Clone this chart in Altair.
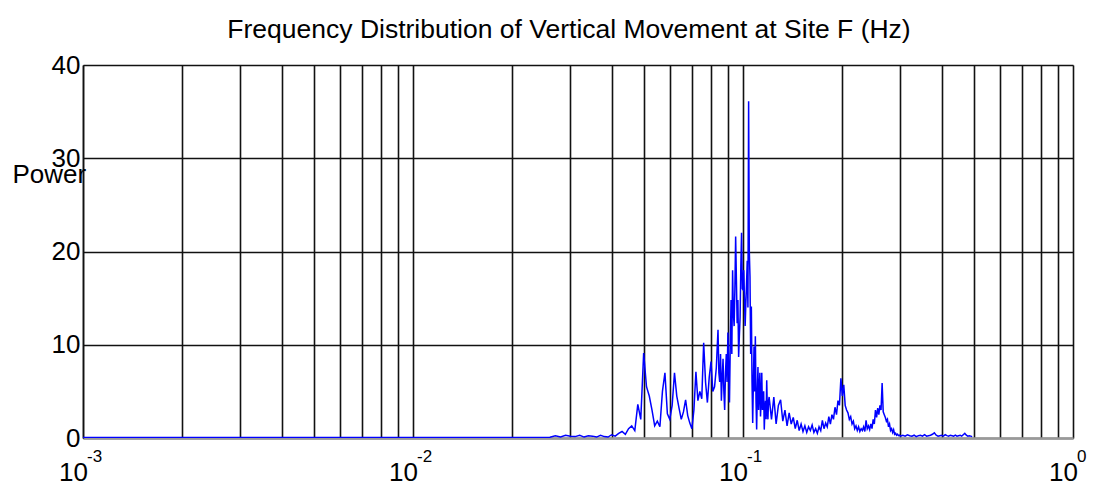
import altair as alt
import pandas as pd

# ---- data (frequency in mHz, power) ----
freq_a = [1, 2, 4, 6, 8, 10, 13, 16, 20, 23, 26]
pow_a = [0.05, 0.05, 0.05, 0.05, 0.05, 0.05, 0.05, 0.05, 0.05, 0.06, 0.08]

freq_b = [27, 28, 29, 30, 31, 32, 33, 34, 35, 36, 37, 38, 39, 40, 41, 42]
pow_b = [0.25, 0.1, 0.3, 0.2, 0.15, 0.3, 0.1, 0.25, 0.2, 0.1, 0.3, 0.15, 0.1, 0.35, 0.2, 0.5]

freq_c = [43, 44, 45, 46, 47, 48, 49, 50, 51, 52, 53, 54, 55, 56, 57, 58, 59, 60,
          61, 62, 63, 64, 65, 66, 67, 68, 69, 70, 71, 72, 73, 74, 75, 76, 77, 78,
          79, 80, 81, 82, 83]
pow_c = [0.7, 0.4, 1.0, 1.3, 0.8, 3.6, 2.0, 9.1, 5.5, 4.5, 3.0, 1.3, 1.8, 1.2, 5.0, 7.0, 2.6, 2.0,
         3.5, 7.0, 4.5, 3.2, 2.0, 2.8, 4.1, 2.4, 1.6, 1.0, 3.0, 7.1, 4.0, 5.0, 4.2, 10.2, 6.0, 3.8,
         6.5, 8.2, 5.0, 5.5, 7.5]

freq_p = [84, 84.5, 85, 85.5, 86, 86.5, 87, 87.5, 88, 88.5, 89, 89.5, 90, 90.5, 91, 91.5,
          92, 92.5, 93, 93.5, 94, 94.5, 95, 95.5, 96, 96.5, 97, 97.5, 98, 98.5, 99, 99.5,
          100, 100.5, 101, 101.5, 102, 102.5, 103, 103.5, 104, 104.5, 105, 105.5, 106, 106.5,
          107, 107.5, 108, 108.5, 109, 109.5, 110, 110.5, 111, 111.5, 112, 112.5, 113, 113.5,
          114, 114.5, 115, 115.5, 116, 116.5, 117, 117.5, 118, 118.5, 119, 119.5, 120]
pow_p = [11.6, 7.0, 6.0, 9.0, 4.0, 6.5, 8.5, 5.0, 3.0, 7.0, 9.0, 6.0, 11.3, 7.5, 3.8, 10.0,
         14.8, 9.0, 18.0, 13.5, 12.0, 16.0, 21.6, 17.0, 12.3, 14.8, 8.7, 11.0, 13.0, 18.4, 22.0, 16.0,
         15.9, 18.0, 15.1, 12.0, 14.4, 16.5, 19.0, 14.0, 36.1, 20.0, 17.3, 9.0, 14.1, 6.0,
         1.6, 6.0, 9.8, 5.0, 10.9, 4.0, 0.9, 5.0, 7.6, 3.0, 5.0, 7.0, 2.3, 4.0,
         7.0, 3.0, 3.5, 5.0, 0.9, 3.0, 4.0, 2.0, 6.2, 3.0, 2.0, 4.0, 4.4]

freq_d = [122, 124, 126, 128, 130, 132, 134, 136, 138, 140, 142, 144, 146, 148, 150,
          152, 154, 156, 158, 160, 162, 164, 166, 168, 170, 172, 174, 176, 178, 180,
          182, 184, 186, 188, 190, 192, 194, 196, 198, 200, 202, 204, 206, 208, 210,
          212, 214, 216, 218, 220, 222, 224, 226, 228, 230, 232, 234, 236, 238, 240,
          242, 244, 246, 248, 250, 252, 254, 256, 258, 260, 262, 264, 266, 268, 270,
          272, 274, 276, 278, 280, 282, 284, 286, 288, 290, 292, 294, 296, 298, 300]
pow_d = [2.0, 4.4, 1.5, 3.5, 4.1, 1.8, 3.0, 1.3, 2.7, 1.5, 2.2, 1.0, 1.9, 0.8, 1.5,
         0.7, 1.3, 0.6, 1.2, 0.8, 1.4, 0.6, 1.0, 0.5, 1.2, 0.8, 1.9, 1.0, 1.6, 1.2,
         2.3, 1.5, 2.5, 2.0, 3.3, 2.5, 4.0, 3.5, 6.4, 4.5, 5.7, 3.5, 3.0, 2.7, 2.0,
         2.3, 1.5, 1.8, 1.0, 1.3, 0.8, 1.2, 0.7, 1.0, 0.8, 1.2, 0.7, 1.9, 1.0, 1.3,
         0.9, 1.5, 1.0, 2.0, 1.5, 3.0, 2.2, 3.2, 2.5, 3.5, 3.0, 5.9, 2.8, 2.5, 2.2,
         1.8, 2.0, 1.2, 1.5, 0.8, 1.0, 0.6, 0.9, 0.4, 0.5, 0.3, 0.4, 0.25, 0.3, 0.2]

freq_e = [305, 310, 315, 320, 325, 330, 335, 340, 345, 350, 355, 360, 365, 370, 375,
          380, 385, 390, 395, 400, 405, 410, 415, 420, 425, 430, 435, 440, 445, 450,
          455, 460, 465, 470, 475, 480, 485, 490, 495]
pow_e = [0.3, 0.2, 0.35, 0.25, 0.2, 0.3, 0.15, 0.25, 0.3, 0.2, 0.35, 0.2, 0.25, 0.3, 0.4,
         0.55, 0.3, 0.2, 0.25, 0.3, 0.2, 0.35, 0.25, 0.2, 0.3, 0.25, 0.2, 0.3, 0.2, 0.25,
         0.3, 0.2, 0.35, 0.5, 0.3, 0.2, 0.25, 0.2, 0.15]

decades = [0.001, 0.01, 0.1, 1]
bases = ["10", "10", "10", "10"]
exponents = ["-3", "-2", "-1", "0"]
x_grid = [0.001, 0.002, 0.003, 0.004, 0.005, 0.006, 0.007, 0.008, 0.009,
          0.01, 0.02, 0.03, 0.04, 0.05, 0.06, 0.07, 0.08, 0.09,
          0.1, 0.2, 0.3, 0.4, 0.5, 0.6, 0.7, 0.8, 0.9, 1]
y_ticks = [0, 10, 20, 30, 40]
title_text = ["Frequency Distribution of Vertical Movement at Site F (Hz)"]

FONT = "Liberation Sans"

freq_mhz = freq_a + freq_b + freq_c + freq_p + freq_d + freq_e
power = pow_a + pow_b + pow_c + pow_p + pow_d + pow_e
df = pd.DataFrame({"freq": [f / 1000 for f in freq_mhz], "power": power})
df_lab = pd.DataFrame({"freq": decades, "base": bases, "exp": exponents})
df_title = pd.DataFrame({"t": title_text})

x_scale = alt.Scale(type="log", domain=[0.001, 1], nice=False)
y_scale = alt.Scale(domain=[0, 40], nice=False)

x_axis = alt.Axis(values=x_grid, title=None, ticks=False, grid=True,
                  gridColor="#111", gridWidth=1.6, labels=False,
                  domainColor="#999", domainWidth=2.5)
y_axis = alt.Axis(values=y_ticks, ticks=False, grid=True,
                  gridColor="#111", gridWidth=1.6,
                  labelFont=FONT, labelFontSize=26, labelColor="#000",
                  labelPadding=3, labelBaseline="middle", labelFlush=False,
                  domainColor="#111", domainWidth=1.5,
                  title="Power", titleAngle=0, titleFont=FONT,
                  titleFontSize=26, titleFontWeight="normal", titleColor="#000",
                  titleAlign="left", titleBaseline="alphabetic",
                  titleX=-71, titleY=117)

line = alt.Chart(df).mark_line(color="#0000ff", strokeWidth=1.5, clip=True).encode(
    x=alt.X("freq:Q", scale=x_scale, axis=x_axis),
    y=alt.Y("power:Q", scale=y_scale, axis=y_axis),
)

base_text = alt.Chart(df_lab).mark_text(
    font=FONT, fontSize=26, align="right", baseline="alphabetic",
    dx=5, dy=43, color="#000"
).encode(
    x=alt.X("freq:Q", scale=x_scale, axis=x_axis),
    y=alt.datum(0, scale=y_scale),
    text="base:N",
)

exp_text = alt.Chart(df_lab).mark_text(
    font=FONT, fontSize=17, align="left", baseline="alphabetic",
    dx=4, dy=24, color="#000"
).encode(
    x=alt.X("freq:Q", scale=x_scale, axis=x_axis),
    y=alt.datum(0, scale=y_scale),
    text="exp:N",
)

title_mark = alt.Chart(df_title).mark_text(
    font=FONT, fontSize=26.5, align="center", baseline="alphabetic", color="#000"
).encode(
    x=alt.value(486),
    y=alt.value(-27),
    text="t:N",
)

chart = alt.layer(line, base_text, exp_text, title_mark).properties(
    width=990, height=373,
    autosize=alt.AutoSizeParams(type="none"),
    padding={"left": 75, "top": 57, "right": 14, "bottom": 48},
).configure_view(stroke="#111", strokeWidth=1.5).configure(background="white")

chart.save("out.html", embed_options={"renderer": "svg", "actions": False})
